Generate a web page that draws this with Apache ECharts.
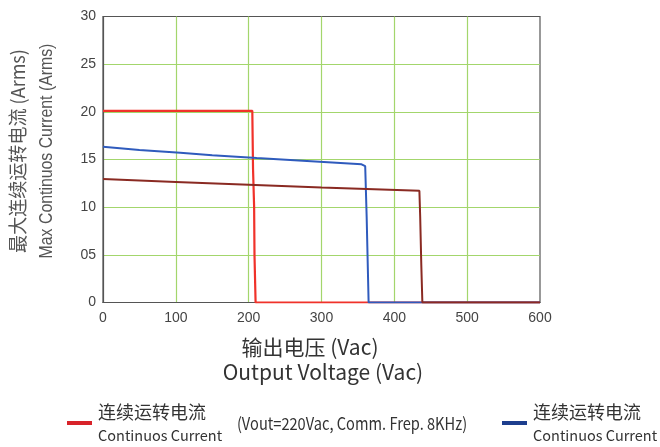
<!DOCTYPE html>
<html>
<head>
<meta charset="utf-8">
<script src="https://cdn.jsdelivr.net/npm/echarts@6/dist/echarts.min.js"></script>
<style>
  html, body { margin: 0; padding: 0; background: #fff; }
  #chart { width: 660px; height: 447px; }
</style>
</head>
<body>
<div id="chart"></div>
<script>
// Output voltage (Vac) vs. max continuous current (Arms) for three drives
const redCurve = [[0, 20.1], [205, 20.1], [206, 14], [207.5, 10], [208, 5], [209.5, 0], [600, 0]];
const blueCurve = [[0, 16.35], [50, 16.0], [106, 15.7], [150, 15.45], [211, 15.15], [280, 14.85], [355, 14.5], [360, 14.3], [362, 9], [364.7, 0], [600, 0]];
const brownCurve = [[0, 12.96], [100, 12.65], [200, 12.35], [300, 12.05], [434.4, 11.72], [435.5, 9], [437, 4], [438.5, 0], [600, 0]];

const xTicks = [0, 100, 200, 300, 400, 500, 600];
const yTickLabels = { 0: '0', 5: '05', 10: '10', 15: '15', 20: '20', 25: '25', 30: '30' };

const legendCn = '连续运转电流';
const legendEn = 'Continuos Current';
const noteText = '(Vout=220Vac, Comm. Frep. 8KHz)';
const xTitleCn = '输出电压 (Vac)';
const xTitleEn = 'Output Voltage (Vac)';
const yTitleCn = '最大连续运转电流 (Arms)';
const yTitleEn = 'Max Continuos Current (Arms)';

const chart = echarts.init(document.getElementById('chart'), null, { renderer: 'canvas' });

const legendRich = {
  cn: { fontFamily: 'Noto Sans CJK SC', fontSize: 18, color: '#333', lineHeight: 24 },
  en: { fontFamily: 'Noto Sans CJK SC', fontSize: 14.5, color: '#333', lineHeight: 22 }
};
const legendFormatter = () => '{cn|' + legendCn + '}\n{en|' + legendEn + '}';

const gridLine = { show: true, showMinLine: false, showMaxLine: false, lineStyle: { color: '#a3d66c', width: 1.2 } };

chart.setOption({
  animation: false,
  backgroundColor: '#fff',
  grid: {
    left: 103, right: 120, top: 16.5, bottom: 144.5,
    show: true, borderColor: '#555', borderWidth: 1.2, containLabel: false
  },
  xAxis: {
    type: 'value', min: 0, max: 600, interval: 100,
    axisLine: { show: true, lineStyle: { color: '#555', width: 1.2 } },
    axisTick: { show: false },
    splitLine: gridLine,
    axisLabel: {
      margin: 9, fontFamily: 'Liberation Sans', fontSize: 14, color: '#444',
      formatter: v => (xTicks.includes(v) ? String(v) : '')
    }
  },
  yAxis: {
    type: 'value', min: 0, max: 30, interval: 5,
    axisLine: { show: true, lineStyle: { color: '#555', width: 1.2 } },
    axisTick: { show: false },
    splitLine: gridLine,
    axisLabel: {
      margin: 7, fontFamily: 'Liberation Sans', fontSize: 14, color: '#444',
      formatter: v => yTickLabels[v] ?? ''
    }
  },
  legend: [
    {
      left: 62, top: 398, itemWidth: 25, itemHeight: 4, itemGap: 0,
      icon: 'rect', selectedMode: false,
      data: [{ name: 'drive-red', itemStyle: { color: '#d8232a' } }],
      formatter: legendFormatter, textStyle: { rich: legendRich, padding: [0, 0, 0, 1] }
    },
    {
      left: 497, top: 398, itemWidth: 25, itemHeight: 4, itemGap: 0,
      icon: 'rect', selectedMode: false,
      data: [{ name: 'drive-blue', itemStyle: { color: '#1d3e8e' } }],
      formatter: legendFormatter, textStyle: { rich: legendRich, padding: [0, 0, 0, 1] }
    }
  ],
  graphic: [
    {
      type: 'text', x: 310, y: 347,
      style: { text: xTitleCn, font: '21px "Noto Sans CJK SC"', fill: '#333', align: 'center', verticalAlign: 'middle' }
    },
    {
      type: 'text', x: 323, y: 372,
      style: { text: xTitleEn, font: '21px "Noto Sans CJK SC"', fill: '#333', align: 'center', verticalAlign: 'middle' }
    },
    {
      type: 'text', x: 18, y: 151, rotation: Math.PI / 2, scaleX: 0.95,
      style: { text: yTitleCn, font: '19px "Noto Sans CJK SC"', fill: '#555', align: 'center', verticalAlign: 'middle' }
    },
    {
      type: 'text', x: 47, y: 151, rotation: Math.PI / 2, scaleX: 0.88,
      style: { text: yTitleEn, font: '18px "Liberation Sans"', fill: '#555', align: 'center', verticalAlign: 'middle' }
    },
    {
      type: 'text', x: 352, y: 424, scaleX: 0.86,
      style: { text: noteText, font: '17px "Noto Sans CJK SC"', fill: '#333', align: 'center', verticalAlign: 'middle' }
    }
  ],
  series: [
    {
      name: 'drive-red', type: 'line', data: redCurve, symbol: 'none',
      lineStyle: { color: '#f0322a', width: 2.2 }, itemStyle: { color: '#d8232a' }, z: 2
    },
    {
      name: 'drive-blue', type: 'line', data: blueCurve, symbol: 'none',
      lineStyle: { color: '#2f5bbd', width: 2 }, itemStyle: { color: '#1d3e8e' }, z: 3
    },
    {
      name: 'drive-brown', type: 'line', data: brownCurve, symbol: 'none',
      lineStyle: { color: '#8a2a22', width: 2 }, itemStyle: { color: '#8a2a22' }, z: 4
    }
  ]
});
</script>
</body>
</html>
